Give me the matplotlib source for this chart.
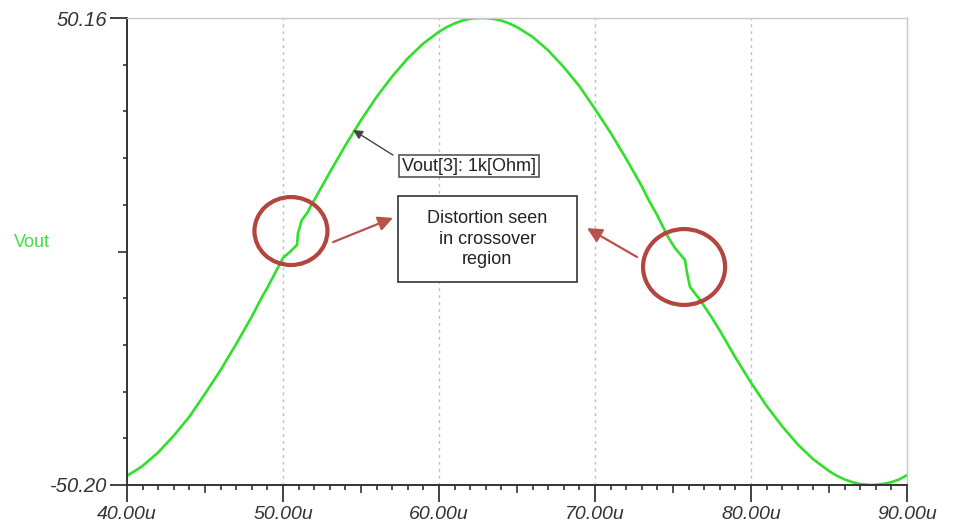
import matplotlib
matplotlib.use("Agg")
import matplotlib.pyplot as plt
from matplotlib.patches import Ellipse, Rectangle
from matplotlib.ticker import FixedLocator, NullFormatter

plt.rcParams["font.family"] = ["Liberation Sans", "DejaVu Sans"]

# time axis in microseconds, output voltage
time_us = [40, 40.5, 41, 42, 43, 44, 45, 46, 47, 48, 48.72, 49, 49.5, 50.0, 50.45,
           50.9, 50.96, 51.2, 51.6, 51.86, 52, 53, 54, 55, 56, 57, 58, 59, 60,
           60.5, 61, 61.5, 62, 62.25, 62.75, 63, 63.5, 64, 64.5, 65, 66, 67, 68,
           69, 70, 71, 72, 73, 73.4, 74, 74.68, 75.13, 75.77, 75.9, 76.09, 76.73,
           77.5, 78, 79, 80, 81, 82, 83, 84, 85, 85.5, 86, 86.5, 87, 87.25, 87.75,
           88, 88.5, 89, 89.5, 90]
vout = [-48.2, -47.2, -46.1, -43.2, -39.6, -35.5, -30.6, -25.5, -19.9, -14.0, -9.4,
        -7.8, -4.6, -1.4, -0.1, 1.4, 3.9, 6.7, 8.5, 10.4, 11.0, 17.0, 22.8, 28.2,
        33.2, 37.6, 41.5, 44.7, 47.2, 48.2, 49.0, 49.6, 50.0, 50.1, 50.16, 50.15,
        49.96, 49.6, 49.0, 48.2, 46.1, 43.2, 39.6, 35.5, 30.6, 25.5, 19.9, 14.0,
        11.3, 7.7, 3.1, 0.7, -1.85, -4.65, -7.65, -10.4, -14.3, -17.0, -22.8,
        -28.2, -33.2, -37.6, -41.5, -44.7, -47.2, -48.2, -49.0, -49.6, -50.0,
        -50.1, -50.2, -50.15, -49.96, -49.6, -49.0, -48.1]

x_major = [40, 50, 60, 70, 80, 90]
x_labels = ["40.00u", "50.00u", "60.00u", "70.00u", "80.00u", "90.00u"]
y_min, y_max = -50.20, 50.16
y_labels = ["-50.20", "50.16"]

GREEN = "#30e02a"
RED = "#b3443e"
DARK = "#333333"

fig = plt.figure(figsize=(9.58, 5.29), dpi=100)
ax = fig.add_axes([127 / 958, 44 / 529, 780 / 958, 467 / 529])

ax.plot(time_us, vout, color=GREEN, linewidth=1.9, solid_joinstyle="round")
ax.set_xlim(x_major[0], x_major[-1])
ax.set_ylim(y_min, y_max)

# spines
for side in ("left", "bottom"):
    ax.spines[side].set_color(DARK)
    ax.spines[side].set_linewidth(1.4)
for side in ("top", "right"):
    ax.spines[side].set_color("#c8c8c8")
    ax.spines[side].set_linewidth(1.0)

# x ticks
ax.xaxis.set_major_locator(FixedLocator(x_major))
ax.set_xticklabels(x_labels)
x_minor = [x_major[0] + i for i in range(x_major[-1] - x_major[0] + 1)
           if i % 10 != 0]
ax.xaxis.set_minor_locator(FixedLocator(x_minor))
ax.xaxis.set_minor_formatter(NullFormatter())
ax.tick_params(axis="x", which="major", direction="out", length=12, width=1.3,
               color=DARK, labelsize=14, labelcolor=DARK, pad=3)
ax.tick_params(axis="x", which="minor", direction="out", length=3.5, width=1.2,
               color=DARK)
for val, tick in zip(x_minor, ax.xaxis.get_minor_ticks()):
    if val % 5 == 0:
        tick.tick1line.set_markersize(6)
for lab in ax.get_xticklabels():
    lab.set_style("italic")

# y ticks
ax.yaxis.set_major_locator(FixedLocator([y_min, y_max]))
ax.set_yticklabels(y_labels)
step = (y_max - y_min) / 10
y_minor = [y_min + step * i for i in range(1, 10)]
ax.yaxis.set_minor_locator(FixedLocator(y_minor))
ax.yaxis.set_minor_formatter(NullFormatter())
ax.tick_params(axis="y", which="major", direction="out", length=12, width=1.3,
               color=DARK, labelsize=14.5, labelcolor=DARK, pad=2)
ax.tick_params(axis="y", which="minor", direction="out", length=3, width=1.2,
               color=DARK)
ax.yaxis.get_minor_ticks()[4].tick1line.set_markersize(6.5)
for lab in ax.get_yticklabels():
    lab.set_style("italic")

# dotted vertical grid
for xv in x_major[1:-1]:
    ax.axvline(xv, color="#bdbdbd", linestyle=(0, (2, 3)), linewidth=1.0, zorder=0)

fig.text(32 / 958, 1 - 243 / 529, "Vout", color="#44dd44", fontsize=13,
         ha="center", va="center")

# trace label with pointer
ax.text(61.92, 18.35, "Vout[3]: 1k[Ohm]", fontsize=13, color="#222222",
        ha="center", va="center",
        bbox=dict(boxstyle="square,pad=0.15", facecolor="white",
                  edgecolor="#555555", linewidth=1.2))
ax.annotate("", xy=(54.49, 26.1), xytext=(57.05, 20.7),
            arrowprops=dict(arrowstyle="-|>", color="#444444", linewidth=1.0,
                            mutation_scale=14, shrinkA=0, shrinkB=0))

# distortion callout
ax.add_patch(Rectangle((57.37, -6.58), 11.48, 18.48, facecolor="white",
                       edgecolor="#333333", linewidth=1.2, zorder=3))
ax.text(63.1, 2.66, "Distortion seen\nin crossover\nregion", fontsize=13,
        color="#222222", ha="center", va="center", zorder=4, linespacing=1.3)

ax.add_patch(Ellipse((50.51, 4.38), 4.68, 14.6, fill=False, edgecolor=RED,
                     linewidth=3, zorder=5))
ax.add_patch(Ellipse((75.71, -3.35), 5.26, 16.3, fill=False, edgecolor=RED,
                     linewidth=3, zorder=5))
ax.annotate("", xy=(57.05, 7.2), xytext=(53.21, 2.0),
            arrowprops=dict(arrowstyle="-|>", color="#b8524a", linewidth=1.6,
                            mutation_scale=22, shrinkA=0, shrinkB=0))
ax.annotate("", xy=(69.49, 5.0), xytext=(72.69, -1.2),
            arrowprops=dict(arrowstyle="-|>", color="#b8524a", linewidth=1.6,
                            mutation_scale=22, shrinkA=0, shrinkB=0))

fig.savefig("out.png", dpi=100)
